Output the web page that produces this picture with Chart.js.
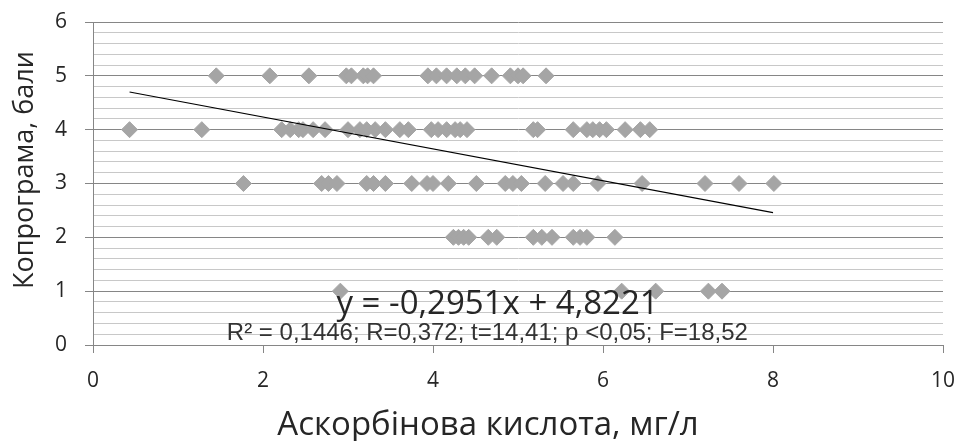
<!DOCTYPE html>
<html>
<head>
<meta charset="utf-8">
<script src="https://cdn.jsdelivr.net/npm/chart.js@4.4.0/dist/chart.umd.min.js"></script>
<style>
  html, body { margin: 0; padding: 0; background: #fff; }
  #scoreChart { display: block; background: #fff; }
</style>
</head>
<body>
<canvas id="scoreChart" width="957" height="441"></canvas>
<script>
// Копрограма (бали) vs аскорбінова кислота (мг/л), one x list per score level
const scoreLevels = [5, 4, 3, 2, 1];
const acidAt5 = [1.45, 2.08, 2.54, 2.98, 3.04, 3.18, 3.23, 3.30, 3.94, 4.04, 4.16, 4.28, 4.38, 4.49, 4.69, 4.91, 5.00, 5.06, 5.33];
const acidAt4 = [0.43, 1.28, 2.22, 2.32, 2.42, 2.47, 2.59, 2.73, 3.00, 3.14, 3.22, 3.32, 3.44, 3.61, 3.71, 3.98, 4.06, 4.16, 4.26, 4.32, 4.40, 5.18, 5.23, 5.65, 5.81, 5.88, 5.96, 6.04, 6.26, 6.44, 6.55];
const acidAt3 = [1.77, 2.69, 2.77, 2.87, 3.22, 3.30, 3.44, 3.75, 3.93, 4.00, 4.18, 4.51, 4.85, 4.94, 5.04, 5.32, 5.53, 5.65, 5.94, 6.46, 7.20, 7.60, 8.01];
const acidAt2 = [4.24, 4.30, 4.36, 4.42, 4.65, 4.75, 5.18, 5.28, 5.40, 5.65, 5.73, 5.81, 6.14];
const acidAt1 = [2.91, 6.22, 6.62, 7.24, 7.40];

// linear trend end points
const trendX = [0.43, 8.0];
const trendY = [4.70, 2.46];

const equationText = 'y = -0,2951x + 4,8221';
const statsText = 'R² = 0,1446; R=0,372; t=14,41; p <0,05; F=18,52';
const xTitle = 'Аскорбінова кислота, мг/л';
const yTitle = 'Копрограма, бали';

const axisGray = '#868686';
const minorGray = '#c8c8c8';
const textColor = '#262626';

function isWhole(v) {
    return Math.abs(v - Math.round(v)) < 1e-6;
}

function buildPoints() {
    const lists = [acidAt5, acidAt4, acidAt3, acidAt2, acidAt1];
    const pts = [];
    lists.forEach((xs, i) => {
        xs.forEach(x => pts.push({ x: x, y: scoreLevels[i] }));
    });
    return pts;
}

// equation, stats line and axis titles
const textPlugin = {
    id: 'chartTexts',
    afterDraw(chart) {
        const { ctx, scales } = chart;
        ctx.save();
        ctx.fillStyle = textColor;
        ctx.textAlign = 'center';
        ctx.textBaseline = 'alphabetic';

        ctx.font = '33px "Open Sans"';
        ctx.fillText(equationText, scales.x.getPixelForValue(4.76), scales.y.getPixelForValue(0.58));

        ctx.font = '24px "Liberation Sans"';
        ctx.fillStyle = '#333333';
        ctx.fillText(statsText, scales.x.getPixelForValue(4.64), scales.y.getPixelForValue(0.09));

        ctx.fillStyle = textColor;
        ctx.font = '33px "Open Sans"';
        ctx.fillText(xTitle, 488, 435);

        ctx.translate(33, 170);
        ctx.rotate(-Math.PI / 2);
        ctx.font = '27px "Open Sans"';
        ctx.fillText(yTitle, 0, 0);
        ctx.restore();
    }
};

function initChart() {
    const ctx = document.getElementById('scoreChart').getContext('2d');
    new Chart(ctx, {
        type: 'scatter',
        data: {
            datasets: [
                {
                    type: 'line',
                    label: 'trend',
                    data: trendX.map((x, i) => ({ x: x, y: trendY[i] })),
                    borderColor: '#000000',
                    borderWidth: 1.2,
                    pointRadius: 0,
                    fill: false,
                    order: 0
                },
                {
                    label: 'points',
                    data: buildPoints(),
                    pointStyle: 'rectRot',
                    pointRadius: 8,
                    pointBorderWidth: 1,
                    backgroundColor: '#a5a5a5',
                    borderColor: '#a5a5a5',
                    order: 1
                }
            ]
        },
        options: {
            responsive: false,
            animation: false,
            events: [],
            layout: {
                padding: { left: 0, right: 14, top: 22, bottom: 0 }
            },
            plugins: {
                legend: { display: false },
                tooltip: { enabled: false }
            },
            scales: {
                x: {
                    type: 'linear',
                    min: 0,
                    max: 10,
                    afterFit: (scale) => {
                        scale.height = 96;
                        scale.paddingLeft = 0;
                        scale.paddingRight = 0;
                    },
                    ticks: {
                        stepSize: 2,
                        padding: 15,
                        color: textColor,
                        font: { family: 'Open Sans', size: 21 }
                    },
                    grid: {
                        drawOnChartArea: false,
                        tickLength: 8,
                        tickColor: axisGray
                    },
                    border: { color: axisGray, width: 1 }
                },
                y: {
                    type: 'linear',
                    min: 0,
                    max: 6,
                    afterFit: (scale) => {
                        scale.width = 93;
                        scale.paddingTop = 0;
                        scale.paddingBottom = 0;
                    },
                    ticks: {
                        stepSize: 0.2,
                        autoSkip: false,
                        padding: 18,
                        color: textColor,
                        font: { family: 'Open Sans', size: 21 },
                        callback: (v) => isWhole(v) ? String(Math.round(v)) : ''
                    },
                    grid: {
                        tickLength: 8,
                        color: (c) => (c.tick && isWhole(c.tick.value)) ? axisGray : minorGray,
                        tickColor: (c) => (c.tick && isWhole(c.tick.value)) ? axisGray : 'rgba(0,0,0,0)'
                    },
                    border: { color: axisGray, width: 1 }
                }
            }
        },
        plugins: [textPlugin]
    });
}

document.addEventListener('DOMContentLoaded', function() {
    Promise.all([
        document.fonts.load('32px "Open Sans"'),
        document.fonts.load('24px "Liberation Sans"')
    ]).then(initChart, initChart);
});
</script>
</body>
</html>
